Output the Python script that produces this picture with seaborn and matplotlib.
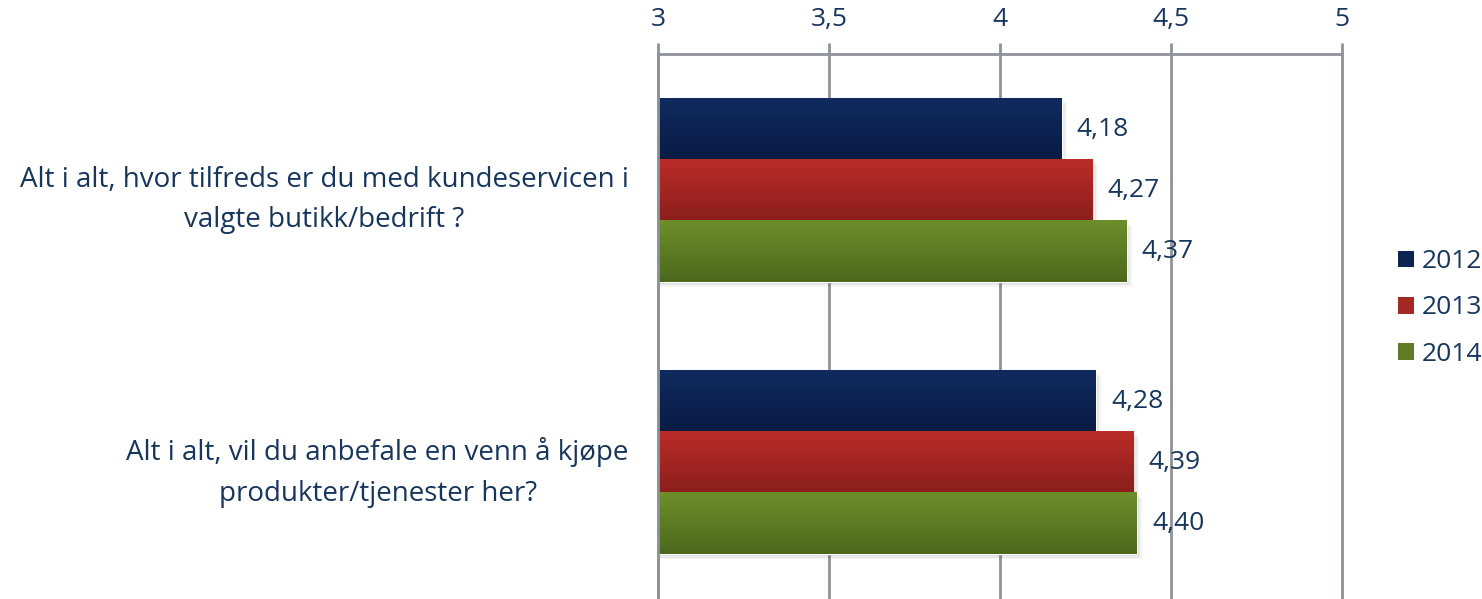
import numpy as np
import pandas as pd
import matplotlib
matplotlib.use("Agg")
import matplotlib.pyplot as plt
import seaborn as sns
from matplotlib.patches import Patch
from matplotlib.colors import LinearSegmentedColormap

questions = [
    "Alt i alt, hvor tilfreds er du med kundeservicen i\nvalgte butikk/bedrift ?",
    "Alt i alt, vil du anbefale en venn å kjøpe\nprodukter/tjenester her?",
]
years = ["2012", "2013", "2014"]
v2012 = [4.18, 4.28]
v2013 = [4.27, 4.39]
v2014 = [4.37, 4.40]
xticks = [3, 3.5, 4, 4.5, 5]
xtick_labels = ["3", "3,5", "4", "4,5", "5"]

colors_top = ["#0F2B5E", "#BA2C28", "#6C8F2A"]
colors_bot = ["#0A1B44", "#8A1F1C", "#4D681C"]
colors_mid = ["#0D2452", "#A42824", "#5E7D24"]
text_color = "#17365D"
grid_color = "#8E9299"

rows = []
for q, a, b, c in zip(questions, v2012, v2013, v2014):
    rows.append({"q": q, "year": "2012", "v": a})
    rows.append({"q": q, "year": "2013", "v": b})
    rows.append({"q": q, "year": "2014", "v": c})
df = pd.DataFrame(rows)

sns.set_theme(style="white")
plt.rcParams["font.family"] = ["Open Sans", "DejaVu Sans"]

fig = plt.figure(figsize=(14.82, 5.99), dpi=100)
ax = fig.add_axes([658 / 1482, 0.0, (1342 - 658) / 1482, 1 - 54 / 599])

sns.barplot(data=df, y="q", x="v", hue="year", hue_order=years, order=questions,
            palette=colors_mid, orient="h", width=0.673, ax=ax, legend=False,
            errorbar=None, saturation=1)

ax.set_xlim(3, 5)
ax.set_ylim(1.5, -0.5)

# gradient fills
for i, cont in enumerate(ax.containers):
    cmap = LinearSegmentedColormap.from_list(f"g{i}", [colors_top[i], colors_bot[i]])
    grad = np.linspace(0, 1, 64).reshape(-1, 1)
    for bar in cont:
        x0 = 3
        x1 = bar.get_x() + bar.get_width()
        y0 = bar.get_y()
        y1 = y0 + bar.get_height()
        # soft shadow
        for k, a in enumerate([0.06, 0.05, 0.04]):
            d = 0.006 * (k + 1)
            ax.add_patch(plt.Rectangle((x0, y0 + d), x1 - x0 + d * 0.9, y1 - y0,
                                       facecolor="#000000", alpha=a, zorder=1.5,
                                       linewidth=0))
        ax.imshow(grad, cmap=cmap, extent=(x0, x1, y1, y0), aspect="auto",
                  zorder=2.5, interpolation="bicubic")
        bar.set_zorder(2)
    labels = [f"{b.get_width():.2f}".replace(".", ",") for b in cont]
    ax.bar_label(cont, labels=labels, padding=11, fontsize=19, color=text_color)

ax.set_xlim(3, 5)
ax.set_ylim(1.5, -0.5)

ax.xaxis.tick_top()
ax.set_xticks(xticks)
ax.set_xticklabels(xtick_labels, fontsize=19, color=text_color)
ax.tick_params(axis="x", length=8, width=2, color=grid_color, pad=8)
ax.grid(axis="x", color=grid_color, linewidth=2)
for gl in ax.get_xgridlines():
    gl.set_clip_on(False)
ax.set_axisbelow(True)

ax.set_yticks([0, 1])
ax.set_yticklabels(questions, fontsize=20, color=text_color, ha="right",
                   multialignment="center", linespacing=1.6)
ax.tick_params(axis="y", which="major", length=0, pad=21)
ax.set_yticks([0.5, 1.5], minor=True)
ax.tick_params(axis="y", which="minor", length=10, width=2, color=grid_color)
ax.set_xlabel("")
ax.set_ylabel("")

for s in ["right", "bottom"]:
    ax.spines[s].set_visible(False)
for s in ["top", "left"]:
    ax.spines[s].set_color(grid_color)
    ax.spines[s].set_linewidth(2)

handles = [Patch(facecolor=c, edgecolor="none") for c in colors_mid]
fig.legend(handles, years, loc="center left", bbox_to_anchor=(1398 / 1482, 1 - 308 / 599),
           frameon=False, fontsize=19, labelcolor=text_color, handlelength=0.6,
           handleheight=0.6, handletextpad=0.3, labelspacing=0.8, borderaxespad=0,
           borderpad=0)

fig.savefig("out.png", dpi=100)
